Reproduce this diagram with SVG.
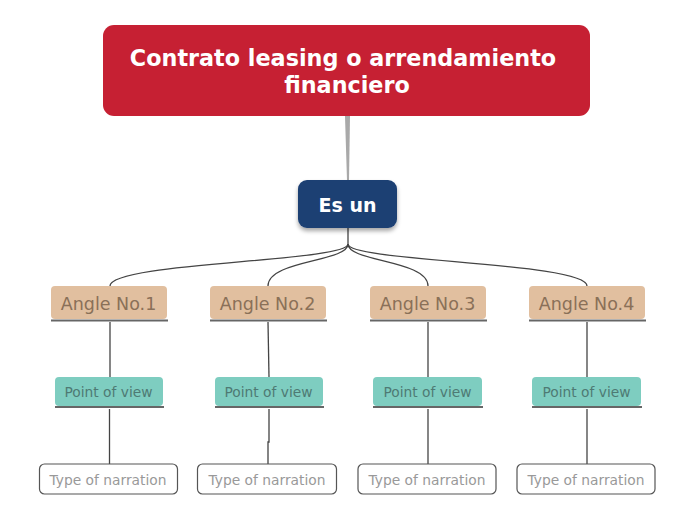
<svg xmlns="http://www.w3.org/2000/svg" width="696" height="520" viewBox="0 0 696 520">
<defs>
<style>
text{font-family:"DejaVu Sans",Verdana,sans-serif;text-anchor:middle}
.title{font-size:22.3px;font-weight:bold;fill:#fff}
.es{font-size:19px;font-weight:bold;fill:#fff}
.ang rect{fill:#E1BF9F}
.ang text{font-size:17.5px;fill:#8A7058}
.pov rect{fill:#7ECDC0}
.pov text{font-size:13.8px;fill:#4E7A74}
.typ rect{fill:#fff;stroke:#555;stroke-width:1.2}
.typ text{font-size:13.8px;fill:#999}
.ul{stroke:#666;stroke-width:2}
.conn path{fill:none;stroke:#444;stroke-width:1.3}
</style>
<filter id="sh" x="-20%" y="-20%" width="140%" height="150%">
<feDropShadow dx="0" dy="3" stdDeviation="2" flood-color="#000" flood-opacity="0.35"/>
</filter>
</defs>
<rect width="696" height="520" fill="#fff"/>
<g id="connectors" class="conn">
<polygon points="345,116 350,116 349,181 347,181" fill="#A9A9A9"/>
<path d="M348 228 V244 C348 262 110 262 110 286"/>
<path d="M348 244 C348 262 268 260 268 286"/>
<path d="M348 244 C348 262 428 260 428 286"/>
<path d="M348 244 C348 262 587 262 587 286"/>
<path d="M110 322 V377"/>
<path d="M268 322 L269 377"/>
<path d="M428 322 V377"/>
<path d="M587 322 V377"/>
<path d="M109.5 409 V464"/>
<path d="M269 409 V442 H268 V464"/>
<path d="M428 409 V464"/>
<path d="M587 409 V464"/>
</g>
<g id="title">
<rect x="103" y="25" width="487" height="91" rx="11" fill="#C62033"/>
<text class="title" x="343" y="66">Contrato leasing o arrendamiento</text>
<text class="title" x="347" y="93">financiero</text>
</g>
<g id="esun">
<rect x="298" y="180" width="99" height="48" rx="9" fill="#1B3F73" filter="url(#sh)"/>
<text class="es" x="347.5" y="212">Es un</text>
</g>
<g id="angle1" class="ang">
<rect x="51" y="286" width="116" height="33" rx="4"/>
<line class="ul" x1="51" y1="320.5" x2="168" y2="320.5"/>
<text x="108.5" y="309.5">Angle No.1</text>
</g>
<g id="angle2" class="ang">
<rect x="210" y="286" width="116" height="33" rx="4"/>
<line class="ul" x1="210" y1="320.5" x2="327" y2="320.5"/>
<text x="267.5" y="309.5">Angle No.2</text>
</g>
<g id="angle3" class="ang">
<rect x="370" y="286" width="116" height="33" rx="4"/>
<line class="ul" x1="370" y1="320.5" x2="487" y2="320.5"/>
<text x="427.5" y="309.5">Angle No.3</text>
</g>
<g id="angle4" class="ang">
<rect x="529" y="286" width="116" height="33" rx="4"/>
<line class="ul" x1="529" y1="320.5" x2="646" y2="320.5"/>
<text x="586.5" y="309.5">Angle No.4</text>
</g>
<g id="pov1" class="pov">
<rect x="55" y="377" width="108" height="29" rx="4"/>
<line class="ul" x1="55" y1="407" x2="164" y2="407"/>
<text x="108.5" y="397">Point of view</text>
</g>
<g id="pov2" class="pov">
<rect x="215" y="377" width="108" height="29" rx="4"/>
<line class="ul" x1="215" y1="407" x2="324" y2="407"/>
<text x="268.5" y="397">Point of view</text>
</g>
<g id="pov3" class="pov">
<rect x="373" y="377" width="109" height="29" rx="4"/>
<line class="ul" x1="373" y1="407" x2="483" y2="407"/>
<text x="427.5" y="397">Point of view</text>
</g>
<g id="pov4" class="pov">
<rect x="532" y="377" width="109" height="29" rx="4"/>
<line class="ul" x1="532" y1="407" x2="642" y2="407"/>
<text x="586.5" y="397">Point of view</text>
</g>
<g id="type1" class="typ">
<rect x="39.5" y="464" width="138" height="30" rx="5"/>
<text x="108" y="485">Type of narration</text>
</g>
<g id="type2" class="typ">
<rect x="197.5" y="464" width="139" height="30" rx="5"/>
<text x="267" y="485">Type of narration</text>
</g>
<g id="type3" class="typ">
<rect x="358" y="464" width="138" height="30" rx="5"/>
<text x="427" y="485">Type of narration</text>
</g>
<g id="type4" class="typ">
<rect x="517" y="464" width="138" height="30" rx="5"/>
<text x="586" y="485">Type of narration</text>
</g>
</svg>
